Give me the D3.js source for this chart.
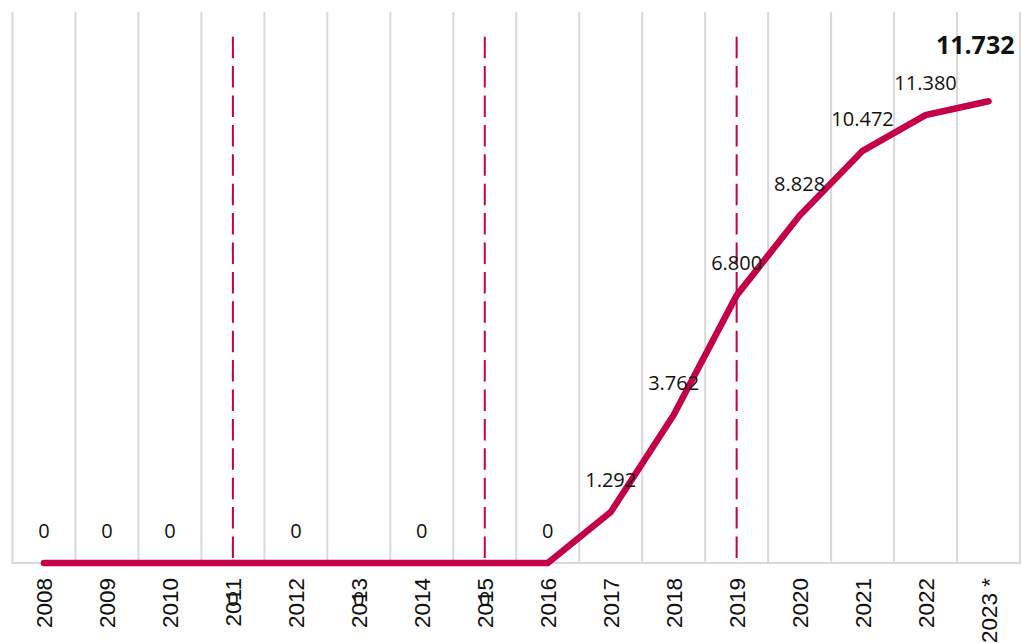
<!DOCTYPE html>
<html>
<head>
<meta charset="utf-8">
<script src="https://cdn.jsdelivr.net/npm/d3@7"></script>
<style>
  html, body { margin: 0; padding: 0; background: #fff; }
  svg { display: block; }
</style>
</head>
<body>
<svg id="chart" width="1021" height="643"></svg>
<script>
const years = ["2008","2009","2010","2011","2012","2013","2014","2015","2016","2017","2018","2019","2020","2021","2022","2023 *"];
const values = [0,0,0,0,0,0,0,0,0,1.292,3.762,6.800,8.828,10.472,11.380,11.732];
const valueLabels = ["0","0","0","0","0","0","0","0","0","1.292","3.762","6.800","8.828","10.472","11.380","11.732"];
const labelsBelow = ["2011","2013","2015"];
const markerYears = ["2011","2015","2019"];
const yDomain = [0, 14];

const svg = d3.select("#chart");
const x = d3.scaleBand().domain(years).range([12.5, 1020]).paddingInner(0).paddingOuter(0);
const y = d3.scaleLinear().domain(yDomain).range([563, 12]);
const cx = d => x(d) + x.bandwidth() / 2;
const red = "#c5004a";

// vertical category gridlines
const bounds = years.map(d => x(d)).concat([x.range()[1]]);
svg.append("g").selectAll("line").data(bounds).join("line")
  .attr("x1", d => d).attr("x2", d => d)
  .attr("y1", y(yDomain[1])).attr("y2", y(0))
  .attr("stroke", "#d9d9d9").attr("stroke-width", 2);

// baseline
svg.append("line")
  .attr("x1", x.range()[0] - 1).attr("x2", x.range()[1] + 1)
  .attr("y1", y(0)).attr("y2", y(0))
  .attr("stroke", "#d9d9d9").attr("stroke-width", 2);

// dashed marker lines (drawn from bottom up)
svg.append("g").selectAll("line").data(markerYears).join("line")
  .attr("x1", d => cx(d)).attr("x2", d => cx(d))
  .attr("y1", y(0) - 5).attr("y2", 29)
  .attr("stroke", red).attr("stroke-width", 2)
  .attr("stroke-dasharray", "21.5,7.9");

// x axis labels
const axis = d3.axisBottom(x).tickSize(0).tickPadding(0);
const gAxis = svg.append("g").attr("transform", `translate(0,${y(0)})`).call(axis);
gAxis.select(".domain").remove();
gAxis.selectAll("text")
  .attr("transform", "rotate(-90)")
  .attr("x", -15).attr("y", 0).attr("dy", "0.36em")
  .attr("text-anchor", "end")
  .attr("font-family", "'Liberation Sans', Arial, sans-serif")
  .attr("font-size", 22.5).attr("fill", "#111");

// line
const data = years.map((d, i) => ({year: d, value: values[i], label: valueLabels[i]}));
svg.append("path").datum(data)
  .attr("d", d3.line().x(d => cx(d.year)).y(d => y(d.value)))
  .attr("fill", "none").attr("stroke", red).attr("stroke-width", 6.5)
  .attr("stroke-linecap", "round").attr("stroke-linejoin", "miter");

// data labels
const last = years[years.length - 1];
svg.append("g").selectAll("text").data(data).join("text")
  .attr("x", d => d.year === last ? cx(d.year) + 26 : cx(d.year))
  .attr("y", d => {
    if (d.year === last) return y(d.value) - 56;
    if (labelsBelow.includes(d.year)) return y(d.value) + 36;
    return y(d.value) - 32;
  })
  .attr("dy", "0.35em")
  .attr("text-anchor", d => d.year === last ? "end" : "middle")
  .attr("font-family", "'Open Sans', 'Noto Sans', sans-serif")
  .attr("font-size", d => d.year === last ? 25 : 20)
  .attr("font-weight", d => d.year === last ? "bold" : "normal")
  .attr("fill", "#111")
  .text(d => d.label);
</script>
</body>
</html>
